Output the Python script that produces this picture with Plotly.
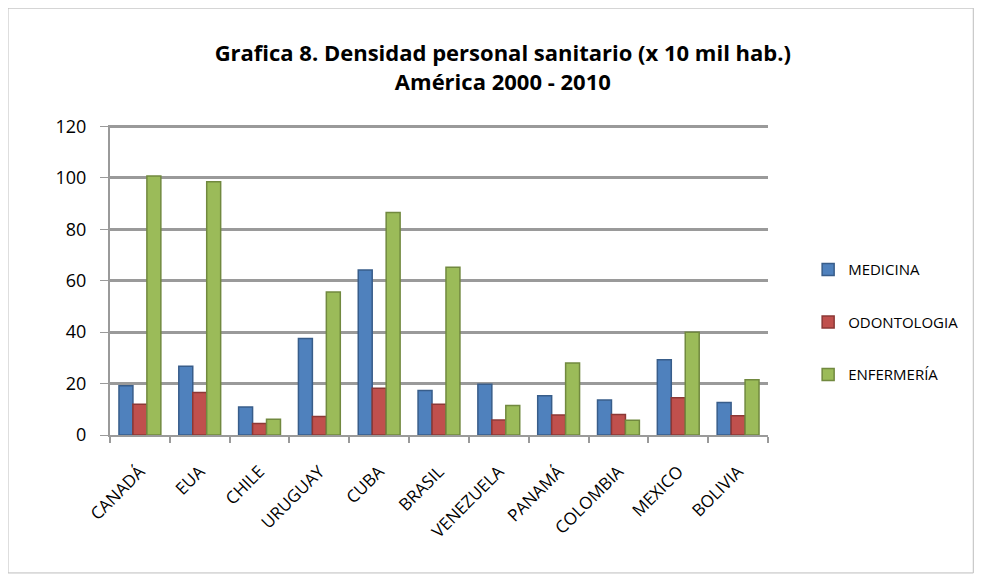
import plotly.graph_objects as go

paises = ["CANADÁ", "EUA", "CHILE", "URUGUAY", "CUBA", "BRASIL",
          "VENEZUELA", "PANAMÁ", "COLOMBIA", "MEXICO", "BOLIVIA"]
medicina = [19.2, 26.7, 10.9, 37.5, 64.2, 17.3, 19.7, 15.3, 13.6, 29.3, 12.6]
odontologia = [12.0, 16.5, 4.5, 7.2, 18.2, 12.0, 5.8, 7.8, 8.0, 14.5, 7.5]
enfermeria = [100.8, 98.5, 6.1, 55.6, 86.6, 65.3, 11.5, 28.0, 5.7, 40.0, 21.5]

series = [
    ("MEDICINA", medicina, "#4F81BD", "#385D8A"),
    ("ODONTOLOGIA", odontologia, "#C0504D", "#8C3836"),
    ("ENFERMERÍA", enfermeria, "#9BBB59", "#71893F"),
]

fig = go.Figure()
for i, (name, vals, col, edge) in enumerate(series):
    fig.add_trace(go.Bar(
        x=paises, y=vals, name=name, legendgroup=name,
        marker=dict(color=col, line=dict(color=edge, width=1.5)),
    ))

font = "Open Sans, Noto Sans, sans-serif"
fig.update_layout(
    width=982, height=581,
    paper_bgcolor="white", plot_bgcolor="white",
    margin=dict(l=102, r=222, t=117, b=154),
    barmode="group", bargap=0.3, bargroupgap=0.0,
    title=dict(
        text="<b>Grafica 8. Densidad personal sanitario (x 10 mil hab.)<br>América 2000 - 2010</b>",
        x=0.597, xanchor="center", xref="paper", y=0.908, yanchor="middle",
        font=dict(family=font, size=22, color="black"),
    ),
    font=dict(family=font, size=15, color="black"),
    legend=dict(
        x=1.061, y=0.364, xanchor="left", yanchor="middle",
        tracegroupgap=30, font=dict(size=15, family=font),
        bgcolor="rgba(0,0,0,0)",
    ),
    showlegend=True,
)
fig.update_xaxes(
    tickangle=-45, showline=True, linecolor="#9a9a9a", linewidth=2,
    ticks="outside", tickcolor="#9a9a9a", ticklen=6, tickwidth=1.5,
    tickson="boundaries", showgrid=False, ticklabelstandoff=18,
    tickfont=dict(size=17, family=font),
)
fig.update_yaxes(
    range=[0, 120.6], tickvals=[0, 20, 40, 60, 80, 100, 120],
    showline=True, linecolor="#9a9a9a", linewidth=2,
    ticks="outside", tickcolor="#9a9a9a", ticklen=8, ticklabelstandoff=10,
    showgrid=True, gridcolor="#9a9a9a", gridwidth=2.5,
    tickfont=dict(size=18, family=font), zeroline=False,
)
fig.add_shape(type="rect", xref="paper", yref="paper",
              x0=-0.155, x1=1.312, y0=-0.445, y1=1.377,
              line=dict(color="#bdbdbd", width=1), layer="below")

fig.write_html("out.html")
